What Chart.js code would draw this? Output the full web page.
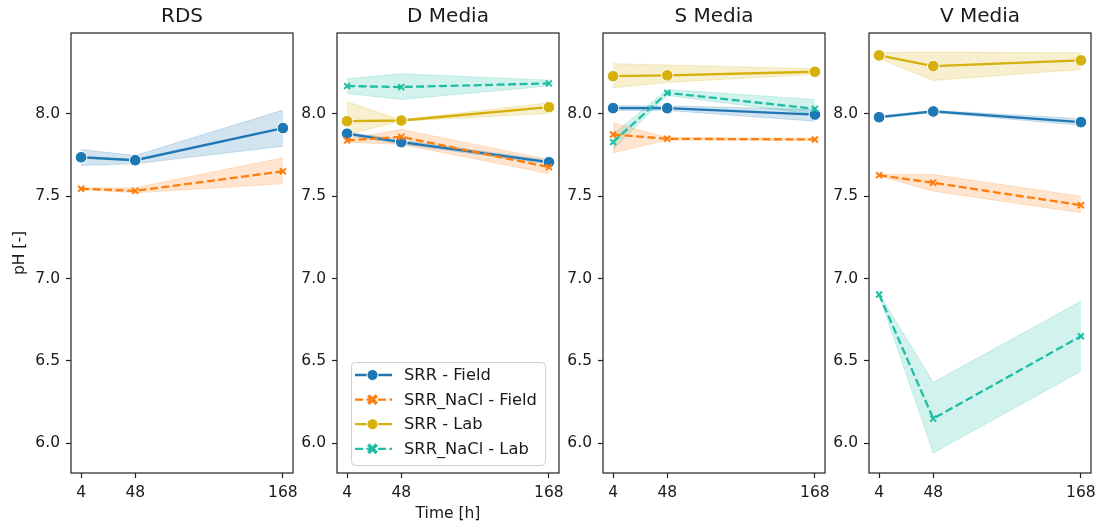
<!DOCTYPE html>
<html>
<head>
<meta charset="utf-8">
<script src="https://cdn.jsdelivr.net/npm/chart.js@4.4.1/dist/chart.umd.min.js"></script>
<style>
  html, body { margin: 0; padding: 0; background: #fff; }
  #wrap { position: relative; width: 1102px; height: 529px; overflow: hidden; }
  #wrap canvas { position: absolute; top: 0; }
</style>
</head>
<body>
<div id="wrap"></div>
<script>
// --- data (pH) ---
const times = [4, 48, 168];
const xTicks = [4, 48, 168];
const yTicks = [6.0, 6.5, 7.0, 7.5, 8.0];
const panelTitles = ['RDS', 'D Media', 'S Media', 'V Media'];
const seriesNames = ['SRR - Field', 'SRR_NaCl - Field', 'SRR - Lab', 'SRR_NaCl - Lab'];

// RDS
const rdsSrrField = [7.736, 7.718, 7.913];
const rdsSrrFieldLo = [7.686, 7.696, 7.803];
const rdsSrrFieldHi = [7.783, 7.747, 8.022];
const rdsNaclField = [7.545, 7.532, 7.651];
const rdsNaclFieldLo = [7.540, 7.520, 7.575];
const rdsNaclFieldHi = [7.550, 7.551, 7.733];

// D Media
const dSrrField = [7.879, 7.828, 7.706];
const dSrrFieldLo = [7.868, 7.816, 7.695];
const dSrrFieldHi = [7.890, 7.840, 7.717];
const dNaclField = [7.838, 7.860, 7.676];
const dNaclFieldLo = [7.828, 7.814, 7.637];
const dNaclFieldHi = [7.848, 7.905, 7.723];
const dSrrLab = [7.955, 7.959, 8.040];
const dSrrLabLo = [7.874, 7.955, 8.002];
const dSrrLabHi = [8.073, 7.963, 8.067];
const dNaclLab = [8.168, 8.162, 8.184];
const dNaclLabLo = [8.123, 8.087, 8.168];
const dNaclLabHi = [8.212, 8.243, 8.204];

// S Media
const sSrrField = [8.034, 8.034, 7.995];
const sSrrFieldLo = [8.020, 8.020, 7.955];
const sSrrFieldHi = [8.048, 8.048, 8.026];
const sNaclField = [7.874, 7.848, 7.844];
const sNaclFieldLo = [7.763, 7.840, 7.838];
const sNaclFieldHi = [7.945, 7.856, 7.850];
const sSrrLab = [8.228, 8.233, 8.255];
const sSrrLabLo = [8.158, 8.190, 8.239];
const sSrrLabHi = [8.304, 8.296, 8.273];
const sNaclLab = [7.828, 8.127, 8.030];
const sNaclLabLo = [7.783, 8.111, 7.996];
const sNaclLabHi = [7.874, 8.147, 8.087];

// V Media
const vSrrField = [7.979, 8.014, 7.949];
const vSrrFieldLo = [7.972, 8.007, 7.930];
const vSrrFieldHi = [7.986, 8.021, 7.970];
const vNaclField = [7.627, 7.581, 7.445];
const vNaclFieldLo = [7.622, 7.530, 7.399];
const vNaclFieldHi = [7.632, 7.631, 7.500];
const vSrrLab = [8.354, 8.289, 8.324];
const vSrrLabLo = [8.335, 8.202, 8.269];
const vSrrLabHi = [8.372, 8.374, 8.370];
const vNaclLab = [6.903, 6.150, 6.650];
const vNaclLabLo = [6.898, 5.942, 6.437];
const vNaclLabHi = [6.908, 6.370, 6.862];

// per panel: [mean, lo, hi] for each series (null = not measured)
const panelSeries = [
    [[rdsSrrField, rdsSrrFieldLo, rdsSrrFieldHi], [rdsNaclField, rdsNaclFieldLo, rdsNaclFieldHi], null, null],
    [[dSrrField, dSrrFieldLo, dSrrFieldHi], [dNaclField, dNaclFieldLo, dNaclFieldHi],
     [dSrrLab, dSrrLabLo, dSrrLabHi], [dNaclLab, dNaclLabLo, dNaclLabHi]],
    [[sSrrField, sSrrFieldLo, sSrrFieldHi], [sNaclField, sNaclFieldLo, sNaclFieldHi],
     [sSrrLab, sSrrLabLo, sSrrLabHi], [sNaclLab, sNaclLabLo, sNaclLabHi]],
    [[vSrrField, vSrrFieldLo, vSrrFieldHi], [vNaclField, vNaclFieldLo, vNaclFieldHi],
     [vSrrLab, vSrrLabLo, vSrrLabHi], [vNaclLab, vNaclLabLo, vNaclLabHi]]
];

// --- styles ---
const colors = [[31, 119, 180], [255, 127, 14], [214, 176, 12], [30, 190, 165]];
const dashed = [false, true, false, true];
const FONT = 'DejaVu Sans';
const TXT = '#1a1a1a';
const panelLefts = [71, 337, 603, 869];
const panelWidth = 222;
const padL = 70, padR = 70;

const rgba = (c, a) => `rgba(${c[0]},${c[1]},${c[2]},${a})`;
const pts = arr => times.map((t, i) => ({x: t, y: arr[i]}));

// frame around each plot (matplotlib spines)
const framePlugin = {
    id: 'frame',
    afterDraw(chart) {
        const {ctx, chartArea: a} = chart;
        ctx.save();
        ctx.strokeStyle = '#222';
        ctx.lineWidth = 1.2;
        ctx.strokeRect(a.left, a.top, a.right - a.left, a.bottom - a.top);
        ctx.restore();
    }
};

function drawMarker(ctx, i, x, y, legend) {
    const c = colors[i];
    ctx.save();
    ctx.setLineDash([]);
    if (dashed[i]) {
        ctx.strokeStyle = rgba(c, 1);
        ctx.lineWidth = legend ? 3.6 : 2;
        const r = legend ? 4.2 : 4;
        ctx.beginPath();
        ctx.moveTo(x - r, y - r); ctx.lineTo(x + r, y + r);
        ctx.moveTo(x - r, y + r); ctx.lineTo(x + r, y - r);
        ctx.stroke();
    } else {
        ctx.fillStyle = rgba(c, 1);
        ctx.strokeStyle = '#fff';
        ctx.lineWidth = 1;
        ctx.beginPath();
        ctx.arc(x, y, 5.5, 0, Math.PI * 2);
        ctx.fill();
        ctx.stroke();
    }
    ctx.restore();
}

// legend box inside the D Media panel
const legendPlugin = {
    id: 'boxLegend',
    afterDraw(chart) {
        const {ctx, chartArea: a} = chart;
        const w = 194, h = 103;
        const x0 = a.left + 14, y0 = a.bottom - 8 - h;
        ctx.save();
        ctx.beginPath();
        ctx.roundRect(x0 + 0.5, y0 + 0.5, w, h, 4);
        ctx.fillStyle = 'rgba(255,255,255,0.85)';
        ctx.fill();
        ctx.strokeStyle = '#d0d0d0';
        ctx.lineWidth = 1;
        ctx.stroke();
        ctx.font = `16.3px "${FONT}"`;
        ctx.textBaseline = 'middle';
        ctx.fillStyle = TXT;
        seriesNames.forEach((name, i) => {
            const cy = y0 + 13 + i * 24.6;
            ctx.strokeStyle = rgba(colors[i], 1);
            ctx.lineWidth = 2.3;
            ctx.setLineDash(dashed[i] ? [8, 3.5] : []);
            ctx.beginPath();
            ctx.moveTo(x0 + 4, cy);
            ctx.lineTo(x0 + 41, cy);
            ctx.stroke();
            drawMarker(ctx, i, x0 + 21.5, cy, true);
            ctx.setLineDash([]);
            ctx.fillText(name, x0 + 53, cy + 1);
        });
        ctx.restore();
    }
};

const wrap = document.getElementById('wrap');

panelTitles.forEach((title, p) => {
    const canvas = document.createElement('canvas');
    canvas.width = padL + panelWidth + padR;
    canvas.height = 529;
    canvas.style.left = (panelLefts[p] - padL) + 'px';
    wrap.appendChild(canvas);

    const datasets = [];
    panelSeries[p].forEach((s, i) => {
        if (!s) return;
        const [mean, lo, hi] = s;
        const c = colors[i];
        datasets.push({
            label: seriesNames[i] + ' hi', data: pts(hi), order: 10,
            borderColor: rgba(c, 0.25), borderWidth: 0.8, pointRadius: 0, fill: false
        });
        datasets.push({
            label: seriesNames[i] + ' lo', data: pts(lo), order: 10,
            borderColor: rgba(c, 0.25), borderWidth: 0.8, pointRadius: 0,
            fill: '-1', backgroundColor: rgba(c, 0.2)
        });
        datasets.push({
            label: seriesNames[i], data: pts(mean), order: 4 - i,
            borderColor: rgba(c, 1), borderWidth: 2.3,
            borderDash: dashed[i] ? [8, 3.5] : [],
            pointStyle: dashed[i] ? 'crossRot' : 'circle',
            pointRadius: dashed[i] ? 4.2 : 5.8,
            pointBackgroundColor: rgba(c, 1),
            pointBorderColor: dashed[i] ? rgba(c, 1) : '#fff',
            pointBorderWidth: dashed[i] ? 2 : 1,
            fill: false, tension: 0
        });
    });

    const tickFont = {family: FONT, size: 15.5};

    new Chart(canvas, {
        type: 'line',
        data: {datasets},
        options: {
            responsive: false,
            animation: false,
            layout: {padding: {left: 0, right: padR, top: 0, bottom: 0}},
            plugins: {
                legend: {display: false},
                tooltip: {enabled: false},
                title: {
                    display: true, text: title, fullSize: false,
                    color: TXT, font: {family: FONT, size: 20, weight: 'normal'},
                    padding: {top: 5, bottom: 4}
                }
            },
            scales: {
                x: {
                    type: 'linear', min: -4.2, max: 176.2,
                    afterBuildTicks: s => { s.ticks = xTicks.map(v => ({value: v})); },
                    afterFit: s => { s.height = 56; },
                    ticks: {color: TXT, font: tickFont, padding: 6, maxRotation: 0, autoSkip: false,
                            callback: v => String(v)},
                    grid: {display: true, drawOnChartArea: false, drawTicks: true, tickLength: 5,
                           tickColor: '#222', tickWidth: 1.2},
                    border: {display: false},
                    title: {display: p === 1, text: 'Time [h]', color: TXT, font: tickFont,
                            padding: {top: 0, bottom: 6}}
                },
                y: {
                    type: 'linear', min: 5.82, max: 8.49,
                    afterBuildTicks: s => { s.ticks = yTicks.map(v => ({value: v})); },
                    afterFit: s => { s.width = padL; },
                    ticks: {color: TXT, font: tickFont, padding: 6, autoSkip: false,
                            callback: v => v.toFixed(1)},
                    grid: {display: true, drawOnChartArea: false, drawTicks: true, tickLength: 5,
                           tickColor: '#222', tickWidth: 1.2},
                    border: {display: false},
                    title: {display: p === 0, text: 'pH [-]', color: TXT, font: tickFont,
                            padding: {top: 10, bottom: 0}}
                }
            }
        },
        plugins: p === 1 ? [framePlugin, legendPlugin] : [framePlugin]
    });
});
</script>
</body>
</html>
